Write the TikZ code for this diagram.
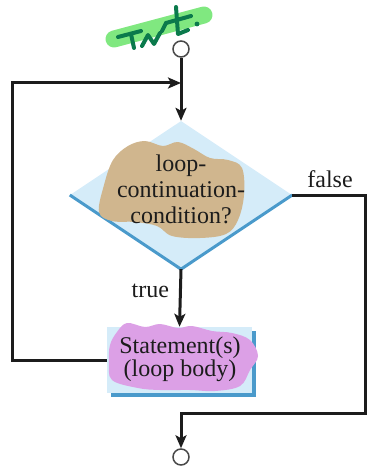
\documentclass[tikz,border=0pt]{standalone}
\usepackage{fontspec}
\setmainfont{Liberation Serif}
\usetikzlibrary{arrows.meta,shapes.geometric,shadows}
\definecolor{ink}{HTML}{1C1C1C}
\definecolor{panel}{HTML}{D5ECF9}
\definecolor{edgeblue}{HTML}{4A9ACB}
\definecolor{tanmark}{HTML}{D0B68E}
\definecolor{orchid}{HTML}{DCA0E6}
\definecolor{hlgreen}{HTML}{80E880}
\definecolor{pen}{HTML}{0B7A4C}
\begin{document}
\begin{tikzpicture}[x=1pt,y=-1pt,
  flow/.style={draw=ink,line width=3pt},
  arrow/.style={flow,-{Stealth[length=13pt,width=11pt,inset=3pt]}},
  terminal/.style={circle,draw=ink!80,line width=1.5pt,fill=white,minimum size=16pt,inner sep=0pt},
  txt/.style={font=\fontsize{24}{26}\selectfont,text=ink,inner sep=0pt,align=center},
  marker/.style={line width=#1,line cap=round,line join=round}
]
\useasboundingbox (0,0) rectangle (367,468);

% terminals and corner points of the flow lines
\node[terminal] (start) at (181,49) {};
\node[terminal] (stop) at (181,457) {};
\coordinate (merge) at (181,83);
\coordinate (loopcorner) at (12,83);
\coordinate (falsecorner) at (365,413);
\coordinate (join) at (181,413);

% decision diamond with its darker lower edges
\node[diamond,fill=panel,minimum width=222pt,minimum height=148pt,inner sep=0pt] (cond) at (181,195) {};
\draw[edgeblue,line width=3pt,line join=round] (cond.west) -- (cond.south) -- (cond.east);

% loop body box with offset shadow
\node[rectangle,fill=panel,minimum width=145pt,minimum height=66pt,inner sep=0pt,
      general shadow={fill=edgeblue,shadow xshift=4pt,shadow yshift=-4pt}] (body) at (179.5,360) {};

% marker scribbles
\fill[tanmark] plot[smooth cycle,tension=0.6] coordinates {
  (99,212) (104,185) (113,160) (128,146) (145,141) (163,146) (178,142) (194,149)
  (210,158) (228,160) (242,168) (244,195) (238,220) (226,234) (200,238) (172,236)
  (157,226) (135,222) (112,221)};
\fill[orchid] plot[smooth cycle,tension=0.6] coordinates {
  (117,332) (127,323) (145,327) (160,324) (178,328) (192,326) (212,331) (232,333)
  (250,340) (258,356) (250,370) (240,386) (215,391) (190,390) (160,390) (138,388)
  (112,380) (109,362) (110,345)};
\draw[marker=17pt,hlgreen] (114,39) -- (204,15);
\draw[marker=4pt,pen] (118,37) -- (141,31);
\draw[marker=4pt,pen] (131,34) -- (134,48);
\draw[marker=4pt,pen] (142,46) -- (148,35) -- (154,44) -- (160,33);
\draw[marker=4pt,pen] (162,31) -- (166,23);
\draw[marker=4pt,pen] (176,7) -- (178,34) -- (188,30);
\draw[marker=4pt,pen] (166,23) -- (191,16);
\fill[pen] (197,24) circle (2.4pt);

% texts
\node[txt] at (181,189) {loop-\\continuation-\\condition?};
\node[txt,font=\fontsize{24}{20}\selectfont] at (180,359) {Statement(s)\\(loop body)};

% connectors
\draw[arrow] (start) -- (cond.north);
\draw[arrow] (cond.south) -- node[txt,left=10pt,pos=0.38] {true} (body.north);
\draw[arrow] (body.west) -| (loopcorner) -- (merge);
\draw[arrow] (cond.east) -| (falsecorner) -- (join) -- (stop);
\node[txt] at (330,179) {false};
\end{tikzpicture}
\end{document}
